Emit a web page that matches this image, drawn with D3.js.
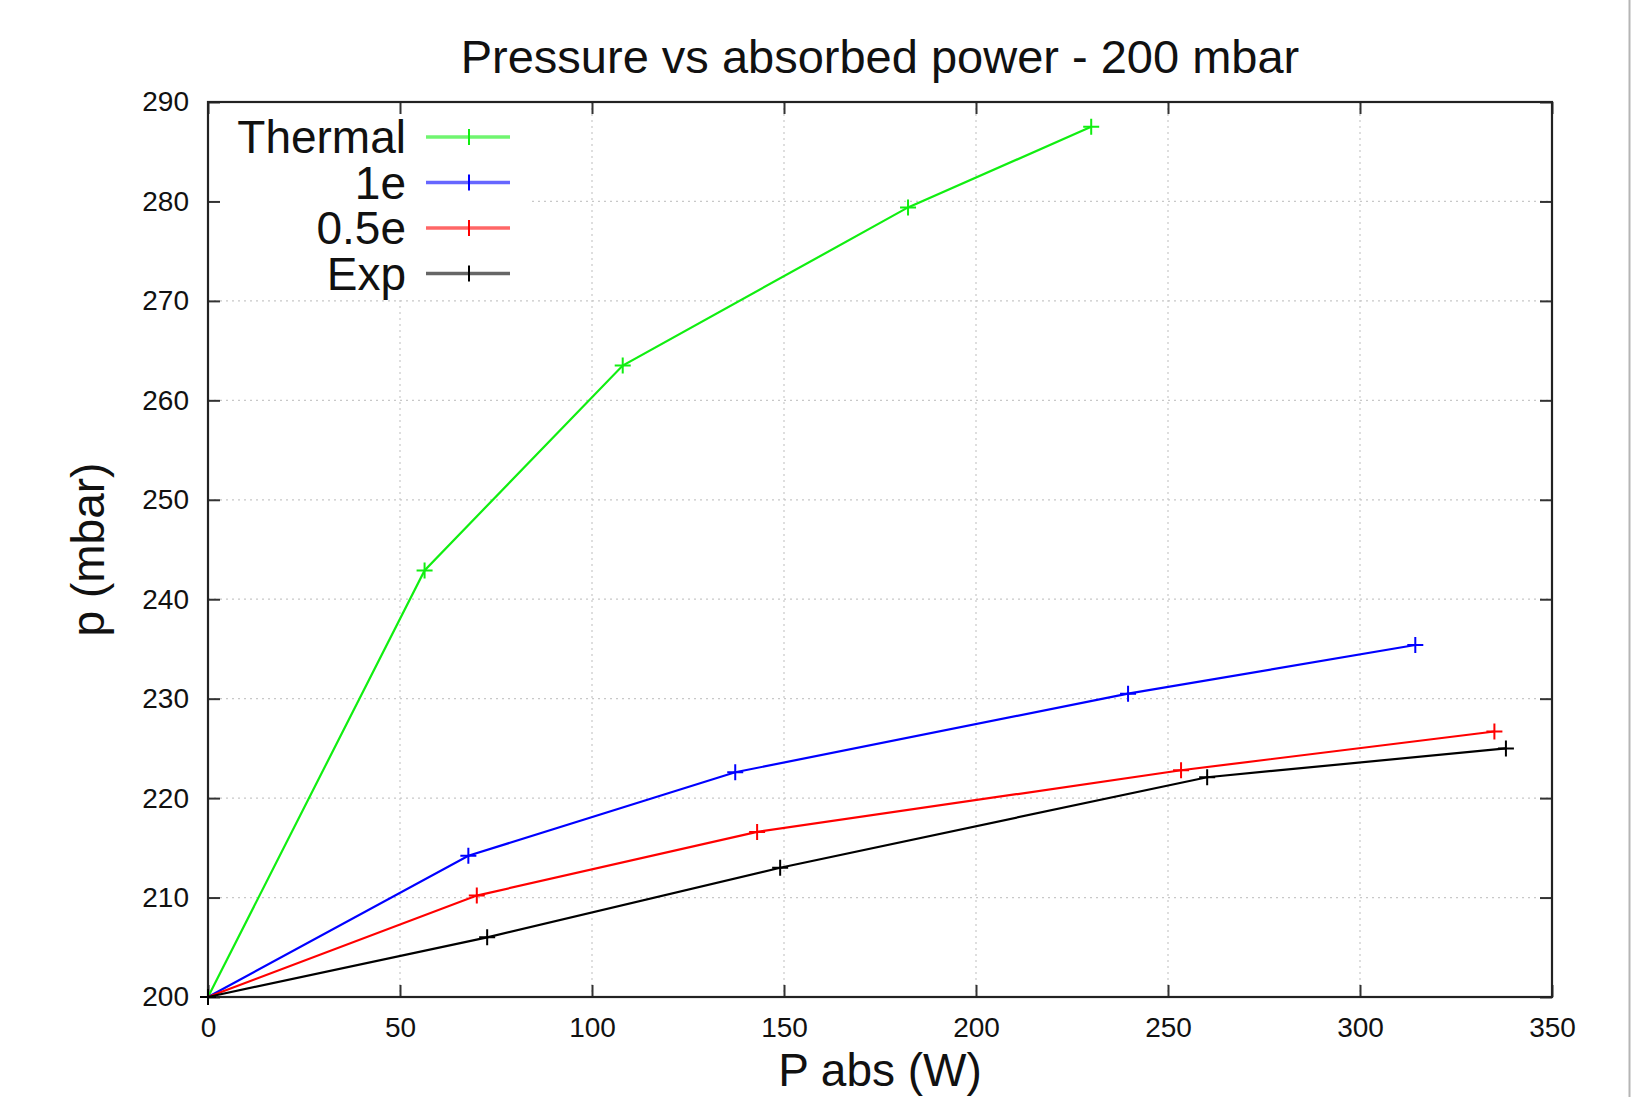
<!DOCTYPE html>
<html>
<head>
<meta charset="utf-8">
<script src="https://cdn.jsdelivr.net/npm/d3@7"></script>
<style>
  body { margin: 0; background: #fff; }
  text { font-family: "Liberation Sans", Arial, sans-serif; fill: #111; }
</style>
</head>
<body>
<div id="chart"></div>
<script>
// Pressure vs absorbed power at 200 mbar

// series data (x = absorbed power W, y = pressure mbar)
const thermalX = [0, 56.4, 108, 182.3, 230];
const thermalY = [200, 242.9, 263.5, 279.4, 287.5];
const oneEX = [0, 67.8, 137.3, 239.6, 314.4];
const oneEY = [200, 214.2, 222.6, 230.5, 235.4];
const halfEX = [0, 70, 143, 253.4, 335];
const halfEY = [200, 210.2, 216.6, 222.8, 226.7];
const expX = [0, 72.7, 149, 260.2, 338];
const expY = [200, 206, 213, 222.1, 225];

const seriesNames = ["Thermal", "1e", "0.5e", "Exp"];
const seriesColors = ["#11ee11", "#0000ff", "#ff0000", "#000000"];

const xTicks = [0, 50, 100, 150, 200, 250, 300, 350];
const yTicks = [200, 210, 220, 230, 240, 250, 260, 270, 280, 290];

const W = 1633, H = 1097;
const margin = { top: 102, right: 81, bottom: 100, left: 208 };
const width = W - margin.left - margin.right;
const height = H - margin.top - margin.bottom;

const series = [
    { name: seriesNames[0], color: seriesColors[0], pts: thermalX.map((x, i) => [x, thermalY[i]]) },
    { name: seriesNames[1], color: seriesColors[1], pts: oneEX.map((x, i) => [x, oneEY[i]]) },
    { name: seriesNames[2], color: seriesColors[2], pts: halfEX.map((x, i) => [x, halfEY[i]]) },
    { name: seriesNames[3], color: seriesColors[3], pts: expX.map((x, i) => [x, expY[i]]) }
];

const x = d3.scaleLinear().domain([0, 350]).range([0, width]);
const y = d3.scaleLinear().domain([200, 290]).range([height, 0]);

const root = d3.select("#chart").append("svg")
    .attr("width", W)
    .attr("height", H);

// thin window edge at the right
root.append("line")
    .attr("x1", 1629.5).attr("x2", 1629.5)
    .attr("y1", 0).attr("y2", H)
    .attr("stroke", "#b5b5b5").attr("stroke-width", 2);

const svg = root.append("g")
    .attr("transform", `translate(${margin.left}, ${margin.top})`);

// grid lines
svg.append("g")
    .selectAll("line")
    .data(xTicks.slice(1, -1))
    .enter().append("line")
    .attr("x1", d => x(d)).attr("x2", d => x(d))
    .attr("y1", 0).attr("y2", height)
    .attr("stroke", "#c8c8c8").attr("stroke-width", 1.2)
    .attr("stroke-dasharray", "2,4");

svg.append("g")
    .selectAll("line")
    .data(yTicks.slice(1, -1))
    .enter().append("line")
    .attr("x1", 0).attr("x2", width)
    .attr("y1", d => y(d)).attr("y2", d => y(d))
    .attr("stroke", "#c8c8c8").attr("stroke-width", 1.2)
    .attr("stroke-dasharray", "2,4");

// legend background hides the grid behind it
svg.append("rect")
    .attr("x", 1).attr("y", 1)
    .attr("width", 320).attr("height", 195)
    .attr("fill", "#fff");

// axes with inward ticks, mirrored on all four sides
const tickLen = 12;
svg.append("g")
    .attr("class", "axis")
    .attr("transform", `translate(0, ${height})`)
    .call(d3.axisBottom(x).tickValues(xTicks).tickSizeInner(-tickLen).tickSizeOuter(0).tickPadding(20));
svg.append("g")
    .attr("class", "axis")
    .call(d3.axisTop(x).tickValues(xTicks).tickSizeInner(-tickLen).tickSizeOuter(0).tickFormat(""));
svg.append("g")
    .attr("class", "axis")
    .call(d3.axisLeft(y).tickValues(yTicks).tickSizeInner(-tickLen).tickSizeOuter(0).tickPadding(19));
svg.append("g")
    .attr("class", "axis")
    .attr("transform", `translate(${width}, 0)`)
    .call(d3.axisRight(y).tickValues(yTicks).tickSizeInner(-tickLen).tickSizeOuter(0).tickFormat(""));

svg.selectAll(".axis .domain").remove();
svg.selectAll(".axis line").attr("stroke", "#333").attr("stroke-width", 2);
svg.selectAll(".axis text")
    .style("font-family", "'Liberation Sans', Arial, sans-serif")
    .style("font-size", "28px")
    .attr("fill", "#222");

// frame
svg.append("rect")
    .attr("x", 0).attr("y", 0)
    .attr("width", width).attr("height", height)
    .attr("fill", "none")
    .attr("stroke", "#222").attr("stroke-width", 2.2);

// lines
const line = d3.line().x(d => x(d[0])).y(d => y(d[1]));
const cross = 8;

series.forEach(s => {
    svg.append("path")
        .datum(s.pts)
        .attr("d", line)
        .attr("fill", "none")
        .attr("stroke", s.color)
        .attr("stroke-width", 2.2);

    svg.append("g")
        .selectAll("path")
        .data(s.pts)
        .enter().append("path")
        .attr("d", d => `M${x(d[0]) - cross},${y(d[1])}H${x(d[0]) + cross}M${x(d[0])},${y(d[1]) - cross}V${y(d[1]) + cross}`)
        .attr("stroke", s.color)
        .attr("stroke-width", 2);
});

// legend
const legend = svg.append("g");
series.forEach((s, i) => {
    const ly = 35 + i * 45.5;
    legend.append("text")
        .attr("x", 198).attr("y", ly)
        .attr("dy", "0.35em")
        .attr("text-anchor", "end")
        .style("font-size", "46px")
        .text(s.name);
    legend.append("line")
        .attr("x1", 218).attr("x2", 302)
        .attr("y1", ly).attr("y2", ly)
        .attr("stroke", s.color).attr("stroke-opacity", 0.6)
        .attr("stroke-width", 3.5);
    legend.append("path")
        .attr("d", `M261,${ly - cross}V${ly + cross}`)
        .attr("stroke", s.color).attr("stroke-width", 2);
});

// title and axis labels
root.append("text")
    .attr("x", margin.left + width / 2).attr("y", 73)
    .attr("text-anchor", "middle")
    .style("font-size", "47px")
    .text("Pressure vs absorbed power - 200 mbar");

root.append("text")
    .attr("x", margin.left + width / 2).attr("y", 1086)
    .attr("text-anchor", "middle")
    .style("font-size", "46px")
    .text("P abs (W)");

root.append("text")
    .attr("transform", `translate(104, ${margin.top + height / 2}) rotate(-90)`)
    .attr("text-anchor", "middle")
    .style("font-size", "46px")
    .text("p (mbar)");
</script>
</body>
</html>
